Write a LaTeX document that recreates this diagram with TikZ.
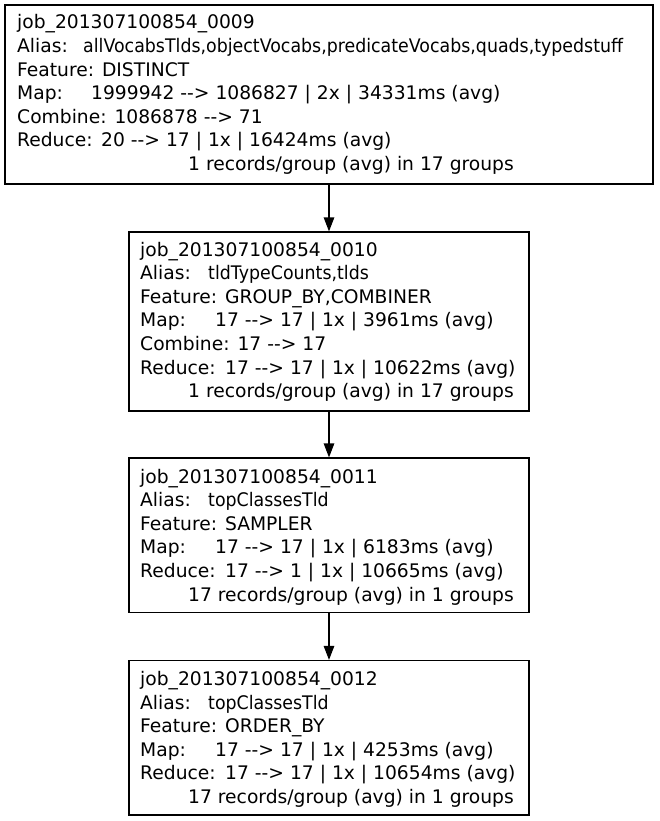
\documentclass[tikz,border=0pt]{standalone}
\usepackage{fontspec}
\setmainfont{DejaVu Sans}
\usetikzlibrary{arrows.meta}
\tikzset{
  jobbox/.style={draw, line width=1.2pt, inner sep=0pt, minimum width=400pt},
  txt/.style={anchor=base west, inner sep=0pt, font=\fontsize{18.7}{22}\selectfont},
  rtxt/.style={anchor=base east, inner sep=0pt, font=\fontsize{18.7}{22}\selectfont},
  flow/.style={-{Triangle[length=14pt,width=10.5pt]}, line width=1.2pt}
}
\newcommand\jl[4]{\node[txt] (#1) at (#2,#3) {#4};}
\newcommand\jr[4]{\node[rtxt] (#1) at (#2,#3) {#4};}
\newcommand\arr{-\kern0pt-\kern0pt>}
\newcommand\lab[2]{\makebox[#1pt][l]{#2}}
\newcommand\nar[1]{\scalebox{0.93}[1]{#1}}
\begin{document}
\begin{tikzpicture}[x=1pt,y=-1pt]
\useasboundingbox (0,0) rectangle (659,821);
\fill[white] (0,0) rectangle (659,821);
% boxes
\node[jobbox, minimum width=648pt, minimum height=179pt] (b1) at (329,94.5) {};
\node[jobbox, minimum height=179pt] (b2) at (329,321.5) {};
\node[jobbox, minimum height=154.5pt] (b3) at (329,535.25) {};
\node[jobbox, minimum height=154.5pt] (b4) at (329,737.75) {};
% box 1 text
\jl{a1}{17}{29}{job\_201307100854\_0009}
\jl{a2}{17}{52.6}{\lab{66}{Alias:}\nar{allVocabsTlds,objectVocabs,predicateVocabs,quads,typedstuff}}
\jl{a3}{17}{76.2}{Feature: DISTINCT}
\jl{a4}{17}{99.8}{\lab{74}{Map:}1999942 \arr{} 1086827 | 2x | 34331ms (avg)}
\jl{a5}{17}{123.4}{Combine: 1086878 \arr{} 71}
\jl{a6}{17}{147}{\lab{84}{Reduce:}20 \arr{} 17 | 1x | 16424ms (avg)}
\jr{a7}{514}{170.6}{1 records/group (avg) in 17 groups}
% box 2 text
\jl{c1}{140}{256}{job\_201307100854\_0010}
\jl{c2}{140}{279.6}{\lab{68}{Alias:}\nar{tldTypeCounts,tlds}}
\jl{c3}{140}{303.2}{Feature: GROUP\_BY,COMBINER}
\jl{c4}{140}{326.8}{\lab{75}{Map:}17 \arr{} 17 | 1x | 3961ms (avg)}
\jl{c5}{140}{350.4}{Combine: 17 \arr{} 17}
\jl{c6}{140}{374}{\lab{85}{Reduce:}17 \arr{} 17 | 1x | 10622ms (avg)}
\jr{c7}{514}{397.6}{1 records/group (avg) in 17 groups}
% box 3 text
\jl{d1}{140}{483}{job\_201307100854\_0011}
\jl{d2}{140}{506.6}{\lab{68}{Alias:}\nar{topClassesTld}}
\jl{d3}{140}{530.2}{Feature: SAMPLER}
\jl{d4}{140}{553.8}{\lab{75}{Map:}17 \arr{} 17 | 1x | 6183ms (avg)}
\jl{d5}{140}{577.4}{\lab{85}{Reduce:}17 \arr{} 1 | 1x | 10665ms (avg)}
\jr{d6}{514}{601}{17 records/group (avg) in 1 groups}
% box 4 text
\jl{e1}{140}{685.5}{job\_201307100854\_0012}
\jl{e2}{140}{709.1}{\lab{68}{Alias:}\nar{topClassesTld}}
\jl{e3}{140}{732.7}{Feature: ORDER\_BY}
\jl{e4}{140}{756.3}{\lab{75}{Map:}17 \arr{} 17 | 1x | 4253ms (avg)}
\jl{e5}{140}{779.9}{\lab{85}{Reduce:}17 \arr{} 17 | 1x | 10654ms (avg)}
\jr{e6}{514}{803.5}{17 records/group (avg) in 1 groups}
% connectors
\draw[flow] (b1.south) -- (b2.north);
\draw[flow] (b2.south) -- (b3.north);
\draw[flow] (b3.south) -- (b4.north);
\end{tikzpicture}
\end{document}
